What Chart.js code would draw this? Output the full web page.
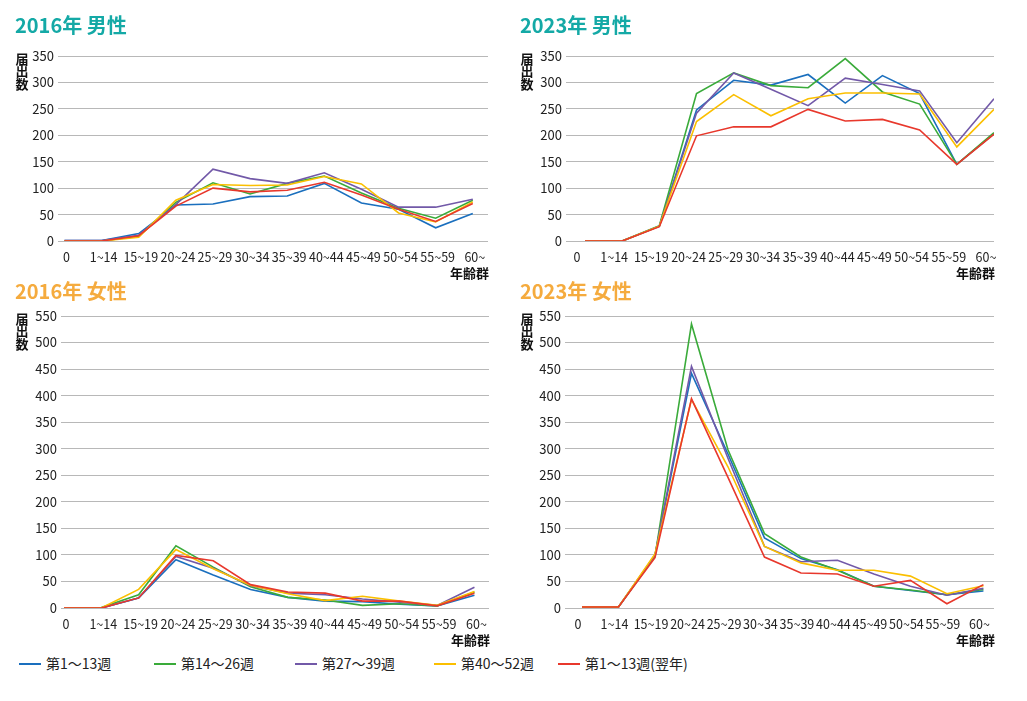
<!DOCTYPE html>
<html lang="ja">
<head>
<meta charset="utf-8">
<script src="https://cdn.jsdelivr.net/npm/chart.js@4.4.1/dist/chart.umd.min.js"></script>
<style>
  body { margin: 0; background: #fff; font-family: "Noto Sans CJK JP", sans-serif; }
  #wrap { position: relative; width: 1027px; height: 701px; }
  canvas { position: absolute; }
  .lg { position: absolute; top: 653px; font-size: 14px; color: #222; white-space: nowrap; line-height: 20px; }
  .lg span { display: inline-block; width: 22px; height: 2px; vertical-align: middle; margin-right: 5px; position: relative; top: -1px; }
</style>
</head>
<body>
<div id="wrap">
  <canvas id="m2016" width="505" height="285" style="left:0;top:0"></canvas>
  <canvas id="m2023" width="515" height="285" style="left:505px;top:0"></canvas>
  <canvas id="f2016" width="505" height="380" style="left:0;top:270px"></canvas>
  <canvas id="f2023" width="515" height="380" style="left:505px;top:270px"></canvas>
</div>
<script>
const ageGroups = ['0', '1~14', '15~19', '20~24', '25~29', '30~34', '35~39', '40~44', '45~49', '50~54', '55~59', '60~'];
const seriesNames = ['第1～13週', '第14～26週', '第27～39週', '第40～52週', '第1～13週(翌年)'];
const seriesColors = ['#1a6fbe', '#3aab3a', '#7259a8', '#fbbf00', '#e8382c'];

// 各系列: 第1~13週, 第14~26週, 第27~39週, 第40~52週, 第1~13週(翌年)
const male2016 = [
  [1, 1, 14, 68, 70, 84, 85, 109, 72, 60, 25, 52],
  [0, 0, 9, 73, 110, 89, 109, 123, 91, 62, 43, 77],
  [1, 1, 11, 69, 136, 118, 109, 129, 98, 64, 64, 79],
  [0, 0, 7, 77, 107, 105, 106, 122, 108, 53, 36, 74],
  [0, 0, 10, 66, 100, 93, 96, 111, 87, 60, 37, 71]
];
const male2023 = [
  [0, 0, 28, 248, 304, 295, 315, 261, 313, 279, 145, 203],
  [0, 0, 29, 279, 318, 294, 290, 345, 282, 259, 145, 205],
  [0, 0, 28, 242, 318, 287, 256, 308, 296, 284, 186, 269],
  [0, 0, 28, 226, 277, 237, 269, 280, 280, 278, 178, 249],
  [0, 0, 27, 199, 216, 216, 249, 227, 230, 210, 145, 202]
];
const female2016 = [
  [0, 0, 19, 91, 62, 35, 20, 13, 12, 7, 4, 24],
  [0, 1, 25, 117, 77, 40, 20, 15, 5, 8, 4, 30],
  [0, 0, 19, 97, 75, 42, 28, 25, 17, 11, 5, 39],
  [0, 0, 35, 110, 74, 43, 27, 14, 22, 13, 5, 31],
  [0, 0, 19, 99, 89, 44, 30, 28, 13, 13, 4, 28]
];
const female2023 = [
  [2, 2, 99, 442, 290, 132, 93, 72, 41, 33, 25, 32],
  [2, 2, 97, 535, 298, 140, 96, 71, 41, 34, 25, 35],
  [2, 2, 100, 455, 282, 116, 87, 90, 64, 41, 24, 37],
  [2, 2, 102, 393, 266, 116, 85, 71, 71, 60, 27, 42],
  [2, 2, 95, 394, 246, 96, 66, 64, 41, 52, 8, 44]
];

const FONT = '"Noto Sans CJK JP", sans-serif';

// タイトル・軸タイトル
const panelText = {
  id: 'panelText',
  afterDraw(chart, args, o) {
    const ctx = chart.ctx, a = chart.chartArea;
    ctx.save();
    ctx.textBaseline = 'middle';
    ctx.fillStyle = o.color;
    ctx.font = 'bold 20px ' + FONT;
    ctx.textAlign = 'left';
    ctx.fillText(o.title, 15, o.titleY);
    ctx.fillStyle = '#111';
    ctx.font = 'bold 13px ' + FONT;
    ctx.textAlign = 'center';
    ['届', '出', '数'].forEach((c, i) => ctx.fillText(c, 22, a.top + 3 + i * 12.5));
    ctx.textAlign = 'right';
    ctx.fillText('年齢群', a.right + 1, a.bottom + 32);
    ctx.restore();
  }
};

function makeChart(id, rows, p) {
  new Chart(document.getElementById(id), {
    type: 'line',
    data: {
      datasets: rows.map((r, i) => ({
        label: seriesNames[i],
        data: r.map((v, j) => ({ x: j, y: v })),
        borderColor: seriesColors[i],
        borderWidth: 1.6,
        pointRadius: 0,
        tension: 0,
        fill: false,
        order: 5 - i
      }))
    },
    options: {
      responsive: false,
      animation: false,
      layout: { padding: { left: 0, right: p.padR, top: p.top, bottom: 0 } },
      plugins: {
        legend: { display: false },
        tooltip: { enabled: false },
        panelText: { title: p.title, color: p.color, titleY: p.titleY }
      },
      scales: {
        x: {
          type: 'linear',
          min: p.xMin,
          max: p.xMax,
          afterBuildTicks: s => { s.ticks = ageGroups.map((_, i) => ({ value: i })); },
          afterFit: s => { s.height = p.xH; },
          grid: { display: false, drawTicks: false },
          border: { display: false },
          ticks: {
            autoSkip: false,
            maxRotation: 0,
            minRotation: 0,
            padding: 9,
            labelOffset: p.labelOffset,
            color: '#222',
            font: { family: FONT, size: 12.5 },
            callback: v => ageGroups[v]
          }
        },
        y: {
          min: 0,
          max: p.yMax,
          afterFit: s => { s.width = p.yW; },
          grid: { color: '#b8b8b8', drawTicks: false, lineWidth: 1 },
          border: { display: false },
          ticks: { stepSize: 50, padding: 4, color: '#222', font: { family: FONT, size: 13 } }
        }
      }
    },
    plugins: [panelText]
  });
}

makeChart('m2016', male2016, { title: '2016年 男性', color: '#14a9a6', titleY: 25, top: 56, padR: 17, yW: 58, xH: 44, yMax: 350, xMin: -0.175, xMax: 11.41, labelOffset: 2 });
makeChart('m2023', male2023, { title: '2023年 男性', color: '#14a9a6', titleY: 25, top: 56, padR: 26, yW: 61, xH: 44, yMax: 350, xMin: -0.51, xMax: 11.0, labelOffset: -8 });
makeChart('f2016', female2016, { title: '2016年 女性', color: '#f5ab3e', titleY: 21, top: 46, padR: 16, yW: 61, xH: 42, yMax: 550, xMin: -0.08, xMax: 11.39, labelOffset: 2 });
makeChart('f2023', female2023, { title: '2023年 女性', color: '#f5ab3e', titleY: 21, top: 46, padR: 26, yW: 60, xH: 42, yMax: 550, xMin: -0.466, xMax: 11.29, labelOffset: -4 });

// 凡例
const legendX = [19, 154, 295, 434, 558];
const wrap = document.getElementById('wrap');
seriesNames.forEach((name, i) => {
  const d = document.createElement('div');
  d.className = 'lg';
  d.style.left = legendX[i] + 'px';
  d.innerHTML = '<span style="background:' + seriesColors[i] + '"></span>' + name;
  wrap.appendChild(d);
});
</script>
</body>
</html>
